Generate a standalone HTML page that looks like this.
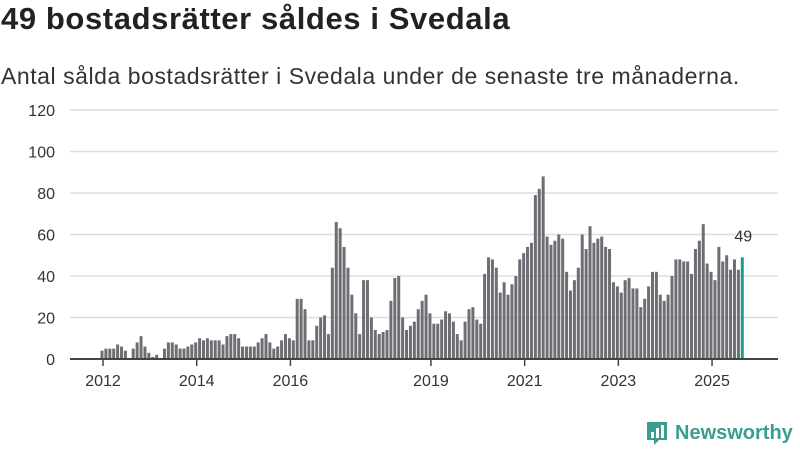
<!DOCTYPE html>
<html><head><meta charset="utf-8"><style>
body{margin:0;width:800px;height:450px;background:#fff;font-family:"Liberation Sans","DejaVu Sans",sans-serif;overflow:hidden;position:relative}
h1{position:absolute;left:1px;top:1px;margin:0;font-size:31px;font-weight:bold;color:#222;letter-spacing:0.6px}
.sub{position:absolute;left:1px;top:63px;font-size:23px;color:#333;letter-spacing:0.55px}
</style></head><body>
<h1>49 bostadsrätter såldes i Svedala</h1>
<div class="sub">Antal sålda bostadsrätter i Svedala under de senaste tre månaderna.</div>
<svg id="chart" width="800" height="450" style="position:absolute;left:0;top:0" font-family="Liberation Sans, DejaVu Sans, sans-serif"></svg>
<div style="position:absolute;left:645px;top:420px;display:flex;align-items:center">
<svg width="24" height="26"><path d="M2 2h20v18h-8l-5 5v-5H2z" fill="#3a9e8f"/><rect x="6" y="12" width="3" height="6" fill="#fff"/><rect x="11" y="8" width="3" height="10" fill="#fff"/><rect x="16" y="5" width="3" height="13" fill="#fff"/></svg>
<span style="font-size:20px;color:#3a9e8f;margin-left:6px;font-weight:bold">Newsworthy</span></div>
<script>
const values=[4,5,5,5,7,6,4,0,5,8,11,6,
3,1,2,0,5,8,8,7,5,5,6,7,
8,10,9,10,9,9,9,7,11,12,12,10,
6,6,6,6,8,10,12,8,5,6,9,12,
10,9,
29,29,24,9,9,16,20,21,12,44,66,63,54,44,31,22,12,38,38,20,14,12,13,14,28,39,40,20,14,16,18,24,28,31,22,17,17,19,23,22,18,12,9,18,24,25,
19,17,41,49,48,44,32,37,31,36,40,48,51,54,56,79,82,88,59,55,57,60,58,42,33,38,44,60,53,64,56,58,59,54,53,
37,35,32,38,39,34,34,25,29,35,42,42,31,28,31,40,48,48,47,47,41,53,57,65,46,42,38,54,47,50,43,48,43,49];
const startYear=2012;
const yTicks=[0,20,40,60,80,100,120];
const xTickYears=[2012,2014,2016,2019,2021,2023,2025];
const svg=document.getElementById('chart');const NS='http://www.w3.org/2000/svg';
const y=v=>359-v*(249/120);
const x=m=>103+m*(46.85/12);
function mk(t,a){const e=document.createElementNS(NS,t);for(const k in a)e.setAttribute(k,a[k]);svg.appendChild(e);return e;}
yTicks.forEach(t=>{
 if(t>0){const g=mk('line',{x1:70,x2:778,y1:y(t),y2:y(t),stroke:'#ddd','stroke-width':1.5});
 
 }
 const l=mk('text',{x:55,y:y(t)+6,'text-anchor':'end','font-size':16,fill:'#333'});l.textContent=t;
 
 
});
values.forEach((v,i)=>{
 const last=i===values.length-1;
 const r=mk('rect',{x:x(i)-2.5,y:y(v),width:3,height:359-y(v),fill:last?'#1a9e8f':'#6e6d73'});
 
 
 if(last){const t=mk('text',{x:x(i),y:y(v)-16,'text-anchor':'middle','font-size':16,fill:'#333'});t.textContent=v;
 
 }
});
const ax=mk('line',{x1:70,x2:778,y1:359,y2:359,stroke:'#444','stroke-width':2});


xTickYears.forEach(yr=>{
 const xx=x((yr-startYear)*12);
 const tk=mk('line',{x1:xx,x2:xx,y1:359,y2:366,stroke:'#444','stroke-width':1.5});
 
 
 const l=mk('text',{x:xx,y:386,'text-anchor':'middle','font-size':16,fill:'#333'});l.textContent=yr;
 
 
});
</script>
</body></html>
